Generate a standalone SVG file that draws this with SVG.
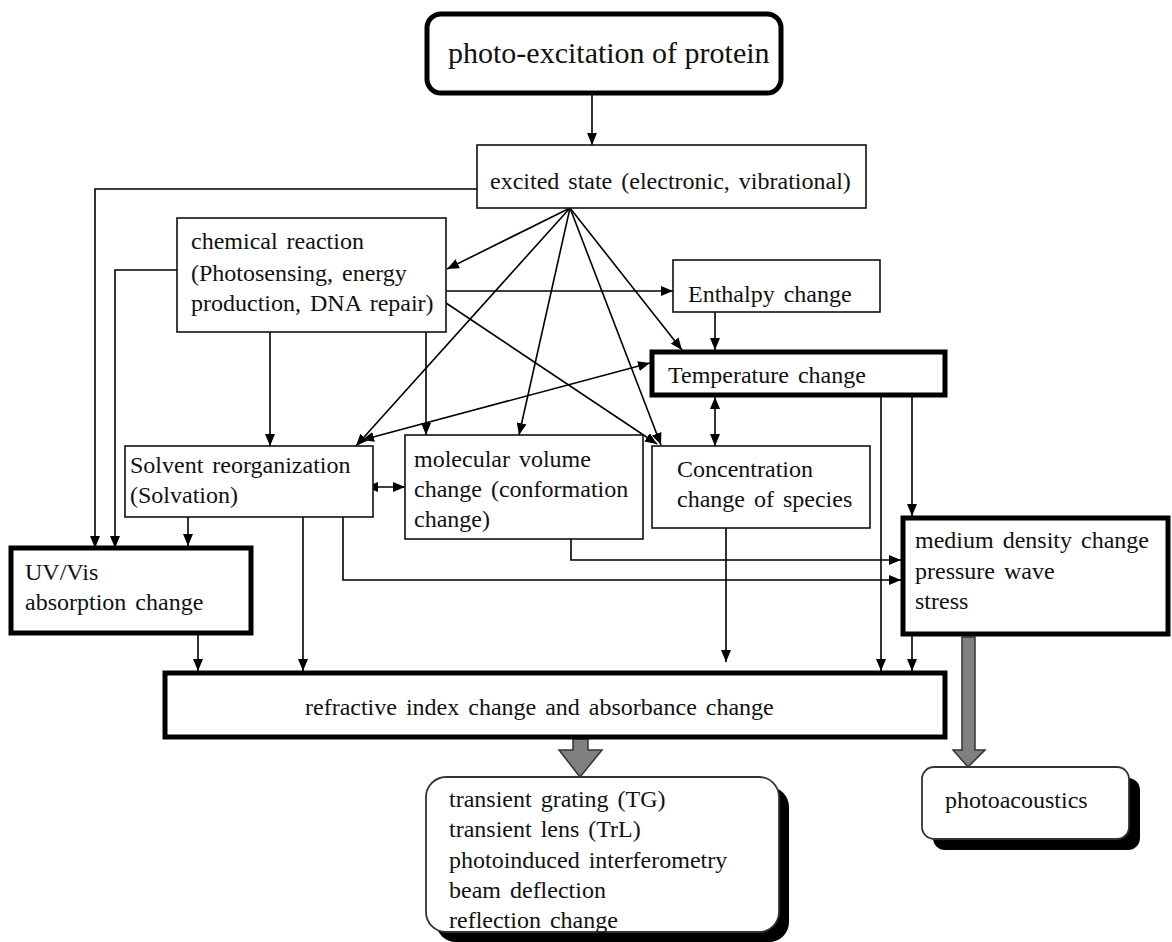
<svg xmlns="http://www.w3.org/2000/svg" width="1172" height="942" viewBox="0 0 1172 942">
<style>
.t{font-family:"Liberation Serif","Times New Roman",serif;font-size:24px;fill:#111;word-spacing:3px}
.tt{font-size:30px;word-spacing:0}
.b{fill:#fff;stroke:#111;stroke-width:1.6}
.k{fill:#fff;stroke:#000;stroke-width:5}
.c{fill:none;stroke:#000;stroke-width:1.6}
.g{fill:#808080;stroke:#333;stroke-width:1.5}
.sh{fill:#000}
.rb{fill:#fff;stroke:#333;stroke-width:1.8}
</style>
<defs>
<marker id="a" viewBox="0 0 12 10" refX="12" refY="5" markerWidth="12" markerHeight="10" orient="auto-start-reverse" markerUnits="userSpaceOnUse">
<path d="M0,0 L12,5 L0,10 z" fill="#000"/>
</marker>
</defs>

<g id="connectors">
<path class="c" d="M592 95 V145" marker-end="url(#a)"/>
<path class="c" d="M477 189 H95 V548" marker-end="url(#a)"/>
<path class="c" d="M177 270 H115 V548" marker-end="url(#a)"/>
<path class="c" d="M570 208 L447 269" marker-end="url(#a)"/>
<path class="c" d="M570 208 L356 446" marker-end="url(#a)"/>
<path class="c" d="M570 208 L519 435" marker-end="url(#a)"/>
<path class="c" d="M570 208 L661 445" marker-end="url(#a)"/>
<path class="c" d="M570 208 L682 350" marker-end="url(#a)"/>
<path class="c" d="M446 291 H673" marker-end="url(#a)"/>
<path class="c" d="M446 303 L657 444" marker-end="url(#a)"/>
<path class="c" d="M270 332 V446" marker-end="url(#a)"/>
<path class="c" d="M426 332 V435" marker-end="url(#a)"/>
<path class="c" d="M715 312 V350" marker-end="url(#a)"/>
<path class="c" d="M715 397 V446" marker-start="url(#a)" marker-end="url(#a)"/>
<path class="c" d="M650 363 L362 440" marker-start="url(#a)" marker-end="url(#a)"/>
<path class="c" d="M366 487 H405" marker-start="url(#a)" marker-end="url(#a)"/>
<path class="c" d="M881 397 V671" marker-end="url(#a)"/>
<path class="c" d="M912 397 V516" marker-end="url(#a)"/>
<path class="c" d="M726 508 V662" marker-end="url(#a)"/>
<path class="c" d="M188 517 V546" marker-end="url(#a)"/>
<path class="c" d="M303 517 V671" marker-end="url(#a)"/>
<path class="c" d="M343 517 V580 H901" marker-end="url(#a)"/>
<path class="c" d="M571 539 V560 H901" marker-end="url(#a)"/>
<path class="c" d="M198 633 V671" marker-end="url(#a)"/>
<path class="c" d="M912 634 V671" marker-end="url(#a)"/>
<polygon class="g" points="573,739 588,739 588,750 602,750 580,777 559,750 573,750"/>
<polygon class="g" points="962,637 975,637 975,750 985,750 968,767 953,750 962,750"/>
</g>

<g id="photoexcitation">
<rect x="427" y="14" width="354" height="79" rx="14" class="k" stroke-width="4.5"/>
<text class="t tt" x="448" y="63">photo-excitation of protein</text>
</g>

<g id="excited">
<rect x="477" y="145" width="389" height="63" class="b"/>
<text class="t" x="490" y="189">excited state (electronic, vibrational)</text>
</g>

<g id="chemical">
<rect x="177" y="218" width="269" height="114" class="b"/>
<text class="t" x="191" y="249">chemical reaction</text>
<text class="t" x="191" y="281">(Photosensing, energy</text>
<text class="t" x="191" y="311">production, DNA repair)</text>
</g>

<g id="enthalpy">
<rect x="673" y="260" width="207" height="52" class="b"/>
<text class="t" x="688" y="302">Enthalpy change</text>
</g>

<g id="temperature">
<rect x="652" y="352" width="293" height="43" class="k" stroke-width="4.5"/>
<text class="t" x="668" y="383">Temperature change</text>
</g>

<g id="concentration">
<rect x="652" y="446" width="218" height="82" class="b"/>
<text class="t" x="677" y="477">Concentration</text>
<text class="t" x="677" y="507">change of species</text>
</g>

<g id="solvent">
<rect x="125" y="446" width="248" height="71" class="b"/>
<text class="t" x="130" y="473">Solvent reorganization</text>
<text class="t" x="130" y="503">(Solvation)</text>
</g>

<g id="molecular">
<rect x="405" y="435" width="238" height="104" class="b"/>
<text class="t" x="414" y="467">molecular volume</text>
<text class="t" x="414" y="497">change (conformation</text>
<text class="t" x="414" y="527">change)</text>
</g>

<g id="uvvis">
<rect x="11" y="548" width="240" height="85" class="k"/>
<text class="t" x="25" y="580">UV/Vis</text>
<text class="t" x="25" y="610">absorption change</text>
</g>

<g id="medium">
<rect x="903" y="518" width="265" height="116" class="k"/>
<text class="t" x="915" y="548">medium density change</text>
<text class="t" x="915" y="579">pressure wave</text>
<text class="t" x="915" y="609">stress</text>
</g>

<g id="refractive">
<rect x="165" y="673" width="780" height="64" class="k"/>
<text class="t" x="305" y="715">refractive index change and absorbance change</text>
</g>

<g id="methods">
<rect x="436" y="787" width="353" height="155" rx="20" class="sh"/>
<rect x="426" y="777" width="353" height="155" rx="20" class="rb"/>
<text class="t" x="449" y="807">transient grating (TG)</text>
<text class="t" x="449" y="837">transient lens (TrL)</text>
<text class="t" x="449" y="868">photoinduced interferometry</text>
<text class="t" x="449" y="898">beam deflection</text>
<text class="t" x="449" y="928">reflection change</text>
</g>

<g id="photoacoustics">
<rect x="933" y="778" width="207" height="72" rx="12" class="sh"/>
<rect x="922" y="767" width="207" height="72" rx="12" class="rb"/>
<text class="t" x="945" y="808">photoacoustics</text>
</g>
</svg>
